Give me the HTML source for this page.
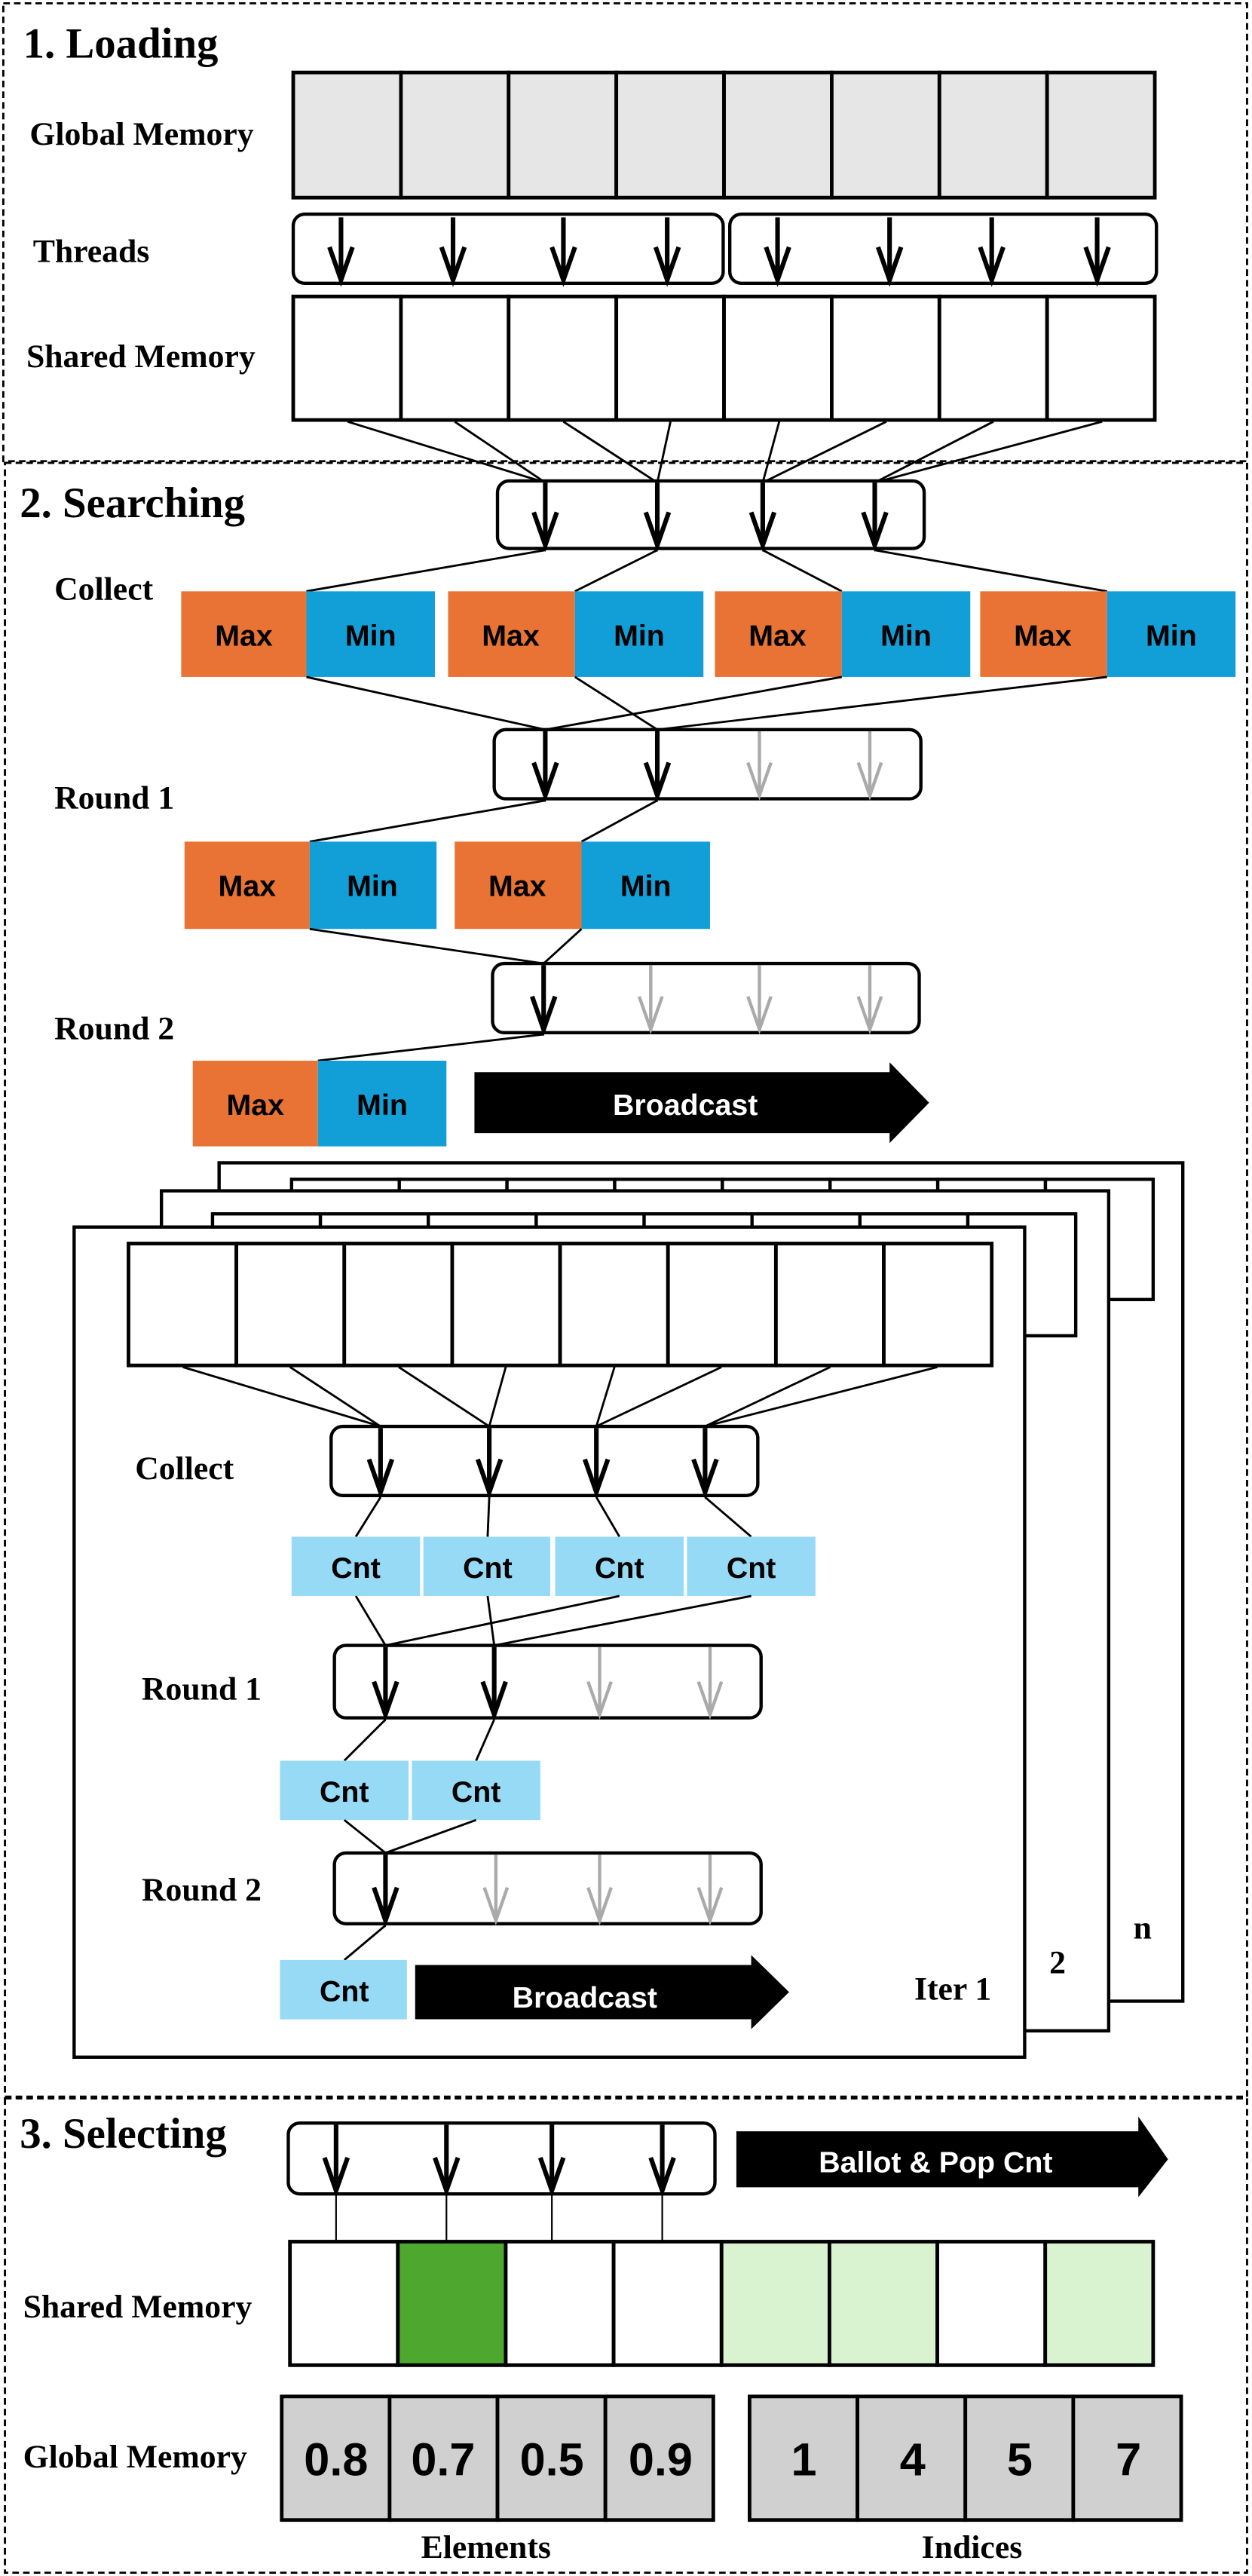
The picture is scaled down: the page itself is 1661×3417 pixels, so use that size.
<!DOCTYPE html>
<html><head><meta charset="utf-8"><style>
html,body{margin:0;padding:0;background:#fff}
svg{display:block}
.lbl{font-family:"Liberation Serif",serif;font-weight:bold;font-size:20px;fill:#000}
.ttl{font-family:"Liberation Serif",serif;font-weight:bold;font-size:26px;fill:#000}
.bx{font-family:"Liberation Sans",sans-serif;font-weight:bold;font-size:18px;fill:#000;text-anchor:middle}
.wt{font-family:"Liberation Sans",sans-serif;font-weight:bold;font-size:18px;fill:#fff;text-anchor:middle}
.num{font-family:"Liberation Sans",sans-serif;font-weight:bold;font-size:28px;fill:#000;text-anchor:middle}
</style></head><body>
<svg id="s" width="1661" height="3417" viewBox="0 0 760 1564" preserveAspectRatio="none" xmlns="http://www.w3.org/2000/svg">
<g fill="none" stroke="#000" stroke-width="1.3" stroke-dasharray="4,2.5">
<rect x="2" y="2" width="755" height="278"/>
<rect x="3" y="281" width="754" height="992"/>
<rect x="3" y="1274" width="754" height="288"/>
</g>
<text class="ttl" x="14" y="35">1. Loading</text>
<text class="lbl" x="18" y="88">Global Memory</text>
<text class="lbl" x="20" y="159">Threads</text>
<text class="lbl" x="16" y="223">Shared Memory</text>
<text class="ttl" x="12" y="314">2. Searching</text>
<text class="lbl" x="33" y="364">Collect</text>
<text class="lbl" x="33" y="491">Round 1</text>
<text class="lbl" x="33" y="631">Round 2</text>
<g id="dyn"></g>
<text class="bx" x="148" y="392">Max</text><text class="bx" x="225" y="392">Min</text>
<text class="bx" x="310" y="392">Max</text><text class="bx" x="388" y="392">Min</text>
<text class="bx" x="472" y="392">Max</text><text class="bx" x="550" y="392">Min</text>
<text class="bx" x="633" y="392">Max</text><text class="bx" x="711" y="392">Min</text>
<text class="bx" x="150" y="544">Max</text><text class="bx" x="226" y="544">Min</text>
<text class="bx" x="314" y="544">Max</text><text class="bx" x="392" y="544">Min</text>
<text class="bx" x="155" y="677">Max</text><text class="bx" x="232" y="677">Min</text>
<text class="wt" x="416" y="677">Broadcast</text>
<text class="lbl" x="82" y="898">Collect</text>
<text class="lbl" x="86" y="1032">Round 1</text>
<text class="lbl" x="86" y="1154">Round 2</text>
<text class="bx" x="216" y="958">Cnt</text><text class="bx" x="296" y="958">Cnt</text>
<text class="bx" x="376" y="958">Cnt</text><text class="bx" x="456" y="958">Cnt</text>
<text class="bx" x="209" y="1094">Cnt</text><text class="bx" x="289" y="1094">Cnt</text>
<text class="bx" x="209" y="1215">Cnt</text>
<text class="wt" x="355" y="1219">Broadcast</text>
<text class="lbl" x="555" y="1214">Iter 1</text>
<text class="lbl" x="637" y="1198">2</text>
<text class="lbl" x="688" y="1177">n</text>
<text class="ttl" x="12" y="1304">3. Selecting</text>
<text class="wt" x="568" y="1319">Ballot &amp; Pop Cnt</text>
<text class="lbl" x="14" y="1407">Shared Memory</text>
<text class="lbl" x="14" y="1498">Global Memory</text>
<text class="num" x="204" y="1503">0.8</text><text class="num" x="269" y="1503">0.7</text>
<text class="num" x="335" y="1503">0.5</text><text class="num" x="401" y="1503">0.9</text>
<text class="num" x="488" y="1503">1</text><text class="num" x="554" y="1503">4</text>
<text class="num" x="619" y="1503">5</text><text class="num" x="685" y="1503">7</text>
<text class="lbl" x="295" y="1553" text-anchor="middle">Elements</text>
<text class="lbl" x="590" y="1553" text-anchor="middle">Indices</text>
</svg>
<script>
var G=document.getElementById("dyn"),out="";
function R(x,y,w,h,f,sw,rx){out+='<rect x="'+x+'" y="'+y+'" width="'+w+'" height="'+h+'" fill="'+(f||"none")+'" stroke="'+(sw===0?"none":"#000")+'" stroke-width="'+(sw||2)+'"'+(rx?' rx="'+rx+'"':'')+'/>';}
function F(x,y,w,h,f){out+='<rect x="'+x+'" y="'+y+'" width="'+w+'" height="'+h+'" fill="'+f+'"/>';}
function L(x1,y1,x2,y2,w,c){out+='<line x1="'+x1+'" y1="'+y1+'" x2="'+x2+'" y2="'+y2+'" stroke="'+(c||"#000")+'" stroke-width="'+(w||1.3)+'"/>';}
function A(x,y1,y2,c){c=c||"#000";var w=c=="#000"?2.8:2;L(x,y1,x,y2,w,c);out+='<polyline points="'+(x-7)+','+(y2-20)+' '+x+','+y2+' '+(x+7)+','+(y2-20)+'" fill="none" stroke="'+c+'" stroke-width="'+w+'"/>';}
function row(x1,x2,y1,y2,fills,sw){var w=(x2-x1)/8;for(var i=0;i<8;i++)R(x1+i*w,y1,w,y2-y1,fills?fills[i]:"#fff",sw||2);}
function arrowShape(x1,x2,tip,y1,y2,hy1,hy2,c){var my=(y1+y2)/2;out+='<polygon points="'+x1+','+y1+' '+x2+','+y1+' '+x2+','+hy1+' '+tip+','+my+' '+x2+','+hy2+' '+x2+','+y2+' '+x1+','+y2+'" fill="'+c+'"/>';}
var g=[];for(var i=0;i<8;i++)g.push("#e6e6e6");
row(178,701,44,120,g,2.2);
R(178,130,261,42,"#fff",2,7);R(443,130,259,42,"#fff",2,7);
[207,275,342,405,472,540,602,666].forEach(function(x){A(x,132,170);});
row(178,701,180,255,null,2.2);
var cc=[211,276,342,407,473,538,603,669],tg=[331,331,399,399,463,463,531,531];
for(var i=0;i<8;i++)L(cc[i],256,tg[i],293);
R(302,292,259,41,"#fff",2,7);[331,399,463,531].forEach(function(x){A(x,293,331);});
L(331,334,186,359);L(399,334,349,359);L(463,334,511,359);L(531,334,672,359);
var O="#e87335",B="#129fd8";
F(110,359,76,52,O);F(186,359,78,52,B);F(272,359,77,52,O);F(349,359,78,52,B);
F(434,359,77,52,O);F(511,359,78,52,B);F(595,359,77,52,O);F(672,359,78,52,B);
L(186,411,331,443);L(349,411,399,443);L(511,411,331,443);L(672,411,399,443);
R(300,443,259,42,"#fff",2,7);A(331,444,483);A(399,444,483);A(461,444,483,"#aaa");A(528,444,483,"#aaa");
L(331,486,188,511);L(399,486,353,511);
F(112,511,76,53,O);F(188,511,77,53,B);F(276,511,77,53,O);F(353,511,78,53,B);
L(188,564,330,585);L(353,564,330,585);
R(299,585,259,42,"#fff",2,7);A(330,586,625);A(395,586,625,"#aaa");A(461,586,625,"#aaa");A(528,586,625,"#aaa");
L(330,628,193,644);
F(117,644,76,52,O);F(193,644,78,52,B);
arrowShape(288,540,564,651,688,645,694,"#000");
R(133,706,585,509,"#fff",2);
row(177,700,716,789,null,2);
R(98,723,575,510,"#fff",2);
row(129,653,737,811,null,2);
R(45,745,577,504,"#fff",2);
row(78,602,755,829,null,2.2);
var c2=[111,176,242,307,373,438,504,569],t2=[231,231,297,297,362,362,428,428];
for(var i=0;i<8;i++)L(c2[i],830,t2[i],866);
R(201,866,259,42,"#fff",2,7);[231,297,362,428].forEach(function(x){A(x,867,906);});
var LB="#97daf6";
L(231,909,216,933);L(297,909,296,933);L(362,909,376,933);L(428,909,456,933);
F(177,933,78,36,LB);F(257,933,77,36,LB);F(337,933,78,36,LB);F(417,933,78,36,LB);
L(216,969,234,999);L(296,969,300,999);L(376,969,234,999);L(456,969,300,999);
R(203,999,259,44,"#fff",2,7);A(234,1000,1041);A(300,1000,1041);A(364,1000,1041,"#aaa");A(431,1000,1041,"#aaa");
L(234,1044,209,1069);L(300,1044,289,1069);
F(170,1069,78,36,LB);F(250,1069,78,36,LB);
L(209,1105,234,1125);L(289,1105,234,1125);
R(203,1125,259,43,"#fff",2,7);A(234,1126,1166);A(301,1126,1166,"#aaa");A(364,1126,1166,"#aaa");A(431,1126,1166,"#aaa");
L(234,1169,209,1190);
F(170,1190,77,36,LB);
arrowShape(252,456,479,1193,1226,1187,1232,"#000");
R(175,1289,259,43,"#fff",2,7);
[204,271,335,402].forEach(function(x){A(x,1290,1330);L(x,1331,x,1361,1);});
arrowShape(447,691,709,1294,1328,1285,1334,"#000");
row(176,700,1361,1436,["#fff","#4ea72e","#fff","#fff","#d9f2d0","#d9f2d0","#fff","#d9f2d0"],2.2);
(function(){var w=(433-171)/4;for(var i=0;i<4;i++)R(171+i*w,1455,w,75,"#d0d0d0",2.2);w=(717-455)/4;for(var i=0;i<4;i++)R(455+i*w,1455,w,75,"#d0d0d0",2.2);})();
G.innerHTML=out;
</script>
</body></html>
